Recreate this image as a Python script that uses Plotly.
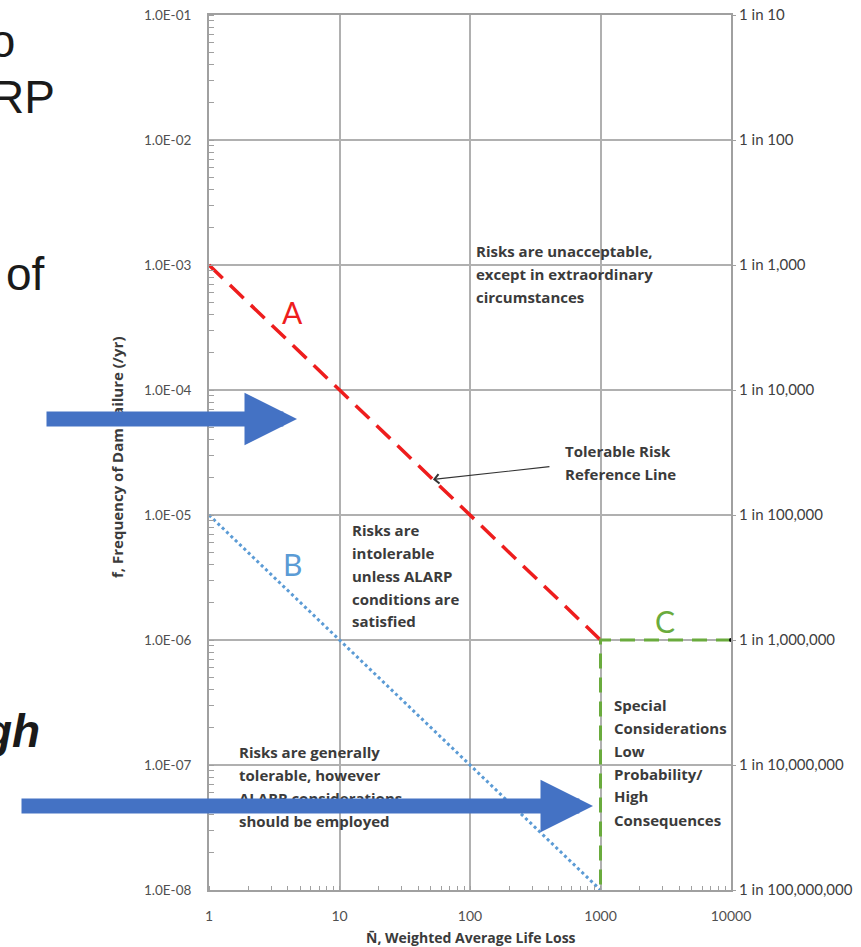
import math
import plotly.graph_objects as go

# ---------------- data ----------------
n_ticks = [1, 10, 100, 1000, 10000]
n_ticktext = ["1", "10", "100", "1000", "10000"]

f_ticks = [1e-1, 1e-2, 1e-3, 1e-4, 1e-5, 1e-6, 1e-7, 1e-8]
f_ticktext = ["1.0E-01", "1.0E-02", "1.0E-03", "1.0E-04",
              "1.0E-05", "1.0E-06", "1.0E-07", "1.0E-08"]
odds_ticktext = ["1 in 10", "1 in 100", "1 in 1,000", "1 in 10,000",
                 "1 in 100,000", "1 in 1,000,000", "1 in 10,000,000",
                 "1 in 100,000,000"]

# A: tolerable risk reference line
line_a_n = [1, 1000]
line_a_f = [1e-3, 1e-6]
# B: lower limit line
line_b_n = [1, 1000]
line_b_f = [1e-5, 1e-8]
# C: special considerations boundary
line_c_n = [10000, 1000, 1000]
line_c_f = [1e-6, 1e-6, 1e-8]
# marker where C meets the right axis
c_end_n = [10000]
c_end_f = [1e-6]
# point on line A that the "Tolerable Risk" callout points to
callout_n = 52
callout_f = 1e-3 / callout_n

# ---------------- geometry ----------------
W, H = 861, 947
L, R, T, B = 209, 130, 15, 57
PW, PH = W - L - R, H - T - B


def px(x):
    return (x - L) / PW


def py(y):
    return (H - B - y) / PH


FONT = "Lato"
NOTE_FONT = "Open Sans"
TXT = "#3b3b3b"
GRID = "#b0b0b0"

fig = go.Figure()

fig.add_trace(go.Scatter(x=line_a_n, y=line_a_f, mode="lines",
                         line=dict(color="#ee1d1d", width=3.5, dash="19px,10px"),
                         showlegend=False, hoverinfo="skip"))
fig.add_trace(go.Scatter(x=line_b_n, y=line_b_f, mode="lines",
                         line=dict(color="#5b9bd5", width=3, dash="dot"),
                         showlegend=False, hoverinfo="skip"))
fig.add_trace(go.Scatter(x=line_c_n, y=line_c_f, mode="lines",
                         line=dict(color="#6aab3d", width=3, dash="15px,9px"),
                         showlegend=False, hoverinfo="skip"))
fig.add_trace(go.Scatter(x=c_end_n, y=c_end_f, mode="markers", yaxis="y2",
                         marker=dict(color="black", size=4), cliponaxis=False,
                         showlegend=False, hoverinfo="skip"))

annotations = []


def text_line(s, x, y, size=15, color=TXT, weight="bold", anchor="left",
              family=NOTE_FONT):
    return dict(text=s, xref="paper", yref="paper", x=px(x), y=py(y),
                xanchor=anchor, yanchor="middle", showarrow=False,
                font=dict(family=family, size=size, color=color, weight=weight))


blocks = [
    (474, [251, 274, 297], ["Risks are unacceptable,", "except in extraordinary",
                            "circumstances"]),
    (563, [451, 474], ["Tolerable Risk", "Reference Line"]),
    (350, [530, 553, 576, 599, 621], ["Risks are", "intolerable", "unless ALARP",
                                      "conditions are", "satisfied"]),
    (237, [752, 775, 798, 821], ["Risks are generally", "tolerable, however",
                                 "ALARP considerations", "should be employed"]),
    (612, [705, 728, 751, 774, 796, 820], ["Special", "Considerations", "Low",
                                           "Probability/", "High", "Consequences"]),
]
for bx, ys, lines in blocks:
    for yy, s in zip(ys, lines):
        annotations.append(text_line(s, bx, yy))

# line labels
annotations.append(text_line("A", 292, 312, size=30, color="#ee1d1d", weight="normal",
                             anchor="center", family=FONT))
annotations.append(text_line("B", 292, 564, size=30, color="#5b9bd5", weight="normal",
                             anchor="center", family=FONT))
annotations.append(text_line("C", 665, 621, size=30, color="#6aab3d", weight="normal",
                             anchor="center", family=FONT))

# callout arrow to line A
annotations.append(dict(text="", x=math.log10(callout_n), y=math.log10(callout_f),
                        xref="x", yref="y", showarrow=True, axref="pixel", ayref="pixel",
                        ax=118, ay=-13, arrowhead=4, arrowsize=1.5, arrowwidth=1.2,
                        arrowcolor="#333333", standoff=0))

# axis titles
annotations.append(dict(text="f, Frequency of Dam Failure (/yr)", xref="paper", yref="paper",
                        x=px(117), y=py(458), xanchor="center", yanchor="middle",
                        textangle=-90, showarrow=False,
                        font=dict(family=NOTE_FONT, size=15, color=TXT, weight="bold")))
annotations.append(dict(text="N\u0304, Weighted Average Life Loss", xref="paper", yref="paper",
                        x=px(471), y=py(937), xanchor="center", yanchor="middle",
                        showarrow=False,
                        font=dict(family=NOTE_FONT, size=14, color=TXT, weight="bold")))

# slide text at the left edge
big = dict(family="Liberation Sans", size=46, color="#1a1a1a")
annotations.append(dict(text="to", xref="paper", yref="paper", x=px(17), y=py(41),
                        xanchor="right", yanchor="middle", showarrow=False, font=big))
annotations.append(dict(text="ALARP", xref="paper", yref="paper", x=px(57), y=py(97),
                        xanchor="right", yanchor="middle", showarrow=False, font=big))
annotations.append(dict(text="of", xref="paper", yref="paper", x=px(47), y=py(274),
                        xanchor="right", yanchor="middle", showarrow=False, font=big))
annotations.append(dict(text="<b><i>High</i></b>", xref="paper", yref="paper", x=px(42), y=py(731),
                        xanchor="right", yanchor="middle", showarrow=False, font=big))

# block arrows on top
for tip_x, tip_y, tail_x in [(297, 419, 45), (593, 806, 20)]:
    annotations.append(dict(text="", xref="paper", yref="paper", x=px(tip_x), y=py(tip_y),
                            showarrow=True, axref="pixel", ayref="pixel",
                            ax=tail_x - tip_x, ay=0, arrowhead=2, arrowsize=0.7,
                            arrowwidth=15, arrowcolor="#4472c4", standoff=0))

axis_common = dict(showline=True, linecolor="#a0a0a0", linewidth=2, mirror=True,
                   showgrid=True, gridcolor=GRID, gridwidth=1.5, zeroline=False)

fig.update_layout(
    width=W, height=H,
    margin=dict(l=L, r=R, t=T, b=B, pad=0),
    paper_bgcolor="white", plot_bgcolor="white",
    showlegend=False,
    annotations=annotations,
    xaxis=dict(type="log", range=[0, 4], tickmode="array", tickvals=n_ticks,
               ticktext=n_ticktext, ticks="", ticklabelstandoff=12, automargin=False,
               tickfont=dict(family=FONT, size=14, color="#505050"),
               minor=dict(ticks="inside", ticklen=4, tickcolor="#a0a0a0", dtick="D1",
                          showgrid=False),
               **axis_common),
    yaxis=dict(type="log", range=[-8, -1], tickmode="array", tickvals=f_ticks,
               ticktext=f_ticktext, ticks="", ticklabelstandoff=13, automargin=False,
               tickfont=dict(family=FONT, size=13.5, color="#505050"),
               minor=dict(ticks="inside", ticklen=5, tickcolor="#a0a0a0", dtick="D1",
                          showgrid=False),
               **axis_common),
    yaxis2=dict(type="log", range=[-8, -1], overlaying="y", side="right", anchor="x",
                tickmode="array", tickvals=f_ticks, ticktext=odds_ticktext,
                ticks="outside", ticklen=4, tickcolor="#a0a0a0", showgrid=False,
                showline=False, zeroline=False, automargin=False,
                tickfont=dict(family=FONT, size=15, color="#404040")),
)

fig.write_html("out.html")
